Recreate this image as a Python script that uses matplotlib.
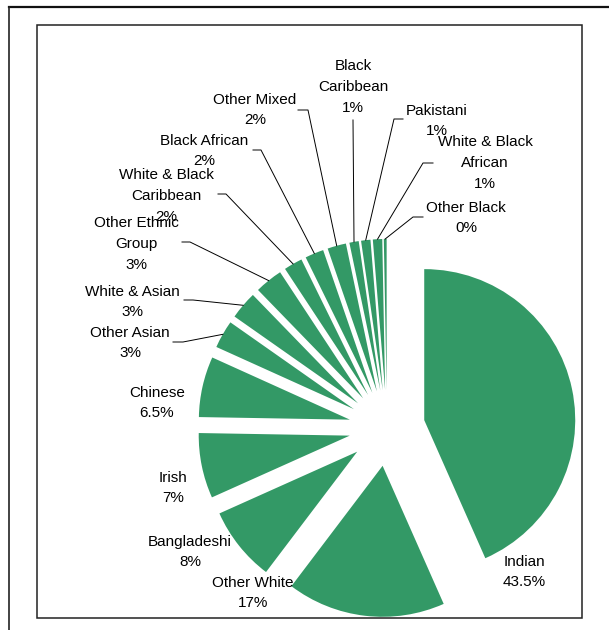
import numpy as np
import matplotlib.pyplot as plt
from matplotlib.patches import Rectangle

plt.rcParams['font.family'] = ['Liberation Sans', 'DejaVu Sans']

# Ethnic group shares (%), going clockwise from 12 o'clock
groups = ['Indian', 'Other White', 'Bangladeshi', 'Irish', 'Chinese',
          'Other Asian', 'White & Asian', 'Other Ethnic\nGroup',
          'White & Black\nCaribbean', 'Black African', 'Other Mixed',
          'Black\nCaribbean', 'Pakistani', 'White & Black\nAfrican', 'Other Black']
shares = [43.5, 17, 8, 7, 6.5, 3, 3, 3, 2, 2, 2, 1, 1, 1, 0.3]

W, H = 609, 630          # canvas size in px, axes use px as data units
green = '#339966'

# label centres (px, y measured from top)
label_pos = {
    'Indian': (524, 572), 'Other White': (253, 593), 'Bangladeshi': (190, 552),
    'Irish': (173, 488), 'Chinese': (157, 403), 'Other Asian': (130, 343),
    'White & Asian': (132, 302), 'Other Ethnic\nGroup': (136, 244),
    'White & Black\nCaribbean': (166, 196), 'Black African': (204, 151),
    'Other Mixed': (255, 110), 'Black\nCaribbean': (353, 87),
    'Pakistani': (437, 121), 'White & Black\nAfrican': (485, 163),
    'Other Black': (466, 218),
}
# leader line elbows (px): start of horizontal tick, then the bend
leaders = {
    'Other Asian': [(173, 342), (183, 342)],
    'White & Asian': [(184, 300), (193, 300)],
    'Other Ethnic\nGroup': [(182, 242), (190, 242)],
    'White & Black\nCaribbean': [(218, 194), (226, 194)],
    'Black African': [(253, 150), (261, 150)],
    'Other Mixed': [(298, 110), (308, 110)],
    'Black\nCaribbean': [(353, 120)],
    'Pakistani': [(403, 119), (394, 119)],
    'White & Black\nAfrican': [(433, 163), (423, 163)],
    'Other Black': [(423, 217), (413, 217)],
}


def px(x, y):
    return x, H - y


def pct_text(v):
    if abs(v - round(v)) > 0.25 and v > 1:
        return f'{v:.1f}%'
    return f'{round(v):.0f}%'


fig = plt.figure(figsize=(W / 100, H / 100), dpi=100)
ax = fig.add_axes([0, 0, 1, 1])

radius = 151
cx, cy = px(387, 428)
wedges, _ = ax.pie(shares, explode=[0.252 * radius] * len(shares), radius=radius,
                   center=(cx, cy), startangle=90, counterclock=False,
                   colors=[green] * len(shares), wedgeprops=dict(linewidth=0))

for name, v, w in zip(groups, shares, wedges):
    x, y = px(*label_pos[name])
    ax.text(x, y, f'{name}\n{pct_text(v)}', ha='center', va='center',
            multialignment='center', fontsize=11, color='black',
            linespacing=1.6)
    if name in leaders:
        tm = np.deg2rad((w.theta1 + w.theta2) / 2)
        ex = w.center[0] + w.r * np.cos(tm)
        ey = w.center[1] + w.r * np.sin(tm)
        pts = [px(*p) for p in leaders[name]] + [(ex, ey)]
        ax.plot([p[0] for p in pts], [p[1] for p in pts], color='black', lw=0.7)

# inner plot frame and outer chart frame
ax.add_patch(Rectangle(px(37, 618), 545, 593, fill=False, ec='#222222', lw=1.1,
                       clip_on=False))
ax.plot([9, W], [H - 6.5, H - 6.5], color='#111111', lw=1.6)
ax.plot([9, 9], [H - 6.5, 0], color='#222222', lw=1.2)

ax.set_xlim(0, W)
ax.set_ylim(0, H)
ax.set_aspect('equal')
ax.axis('off')

fig.savefig('out.png', dpi=100)
